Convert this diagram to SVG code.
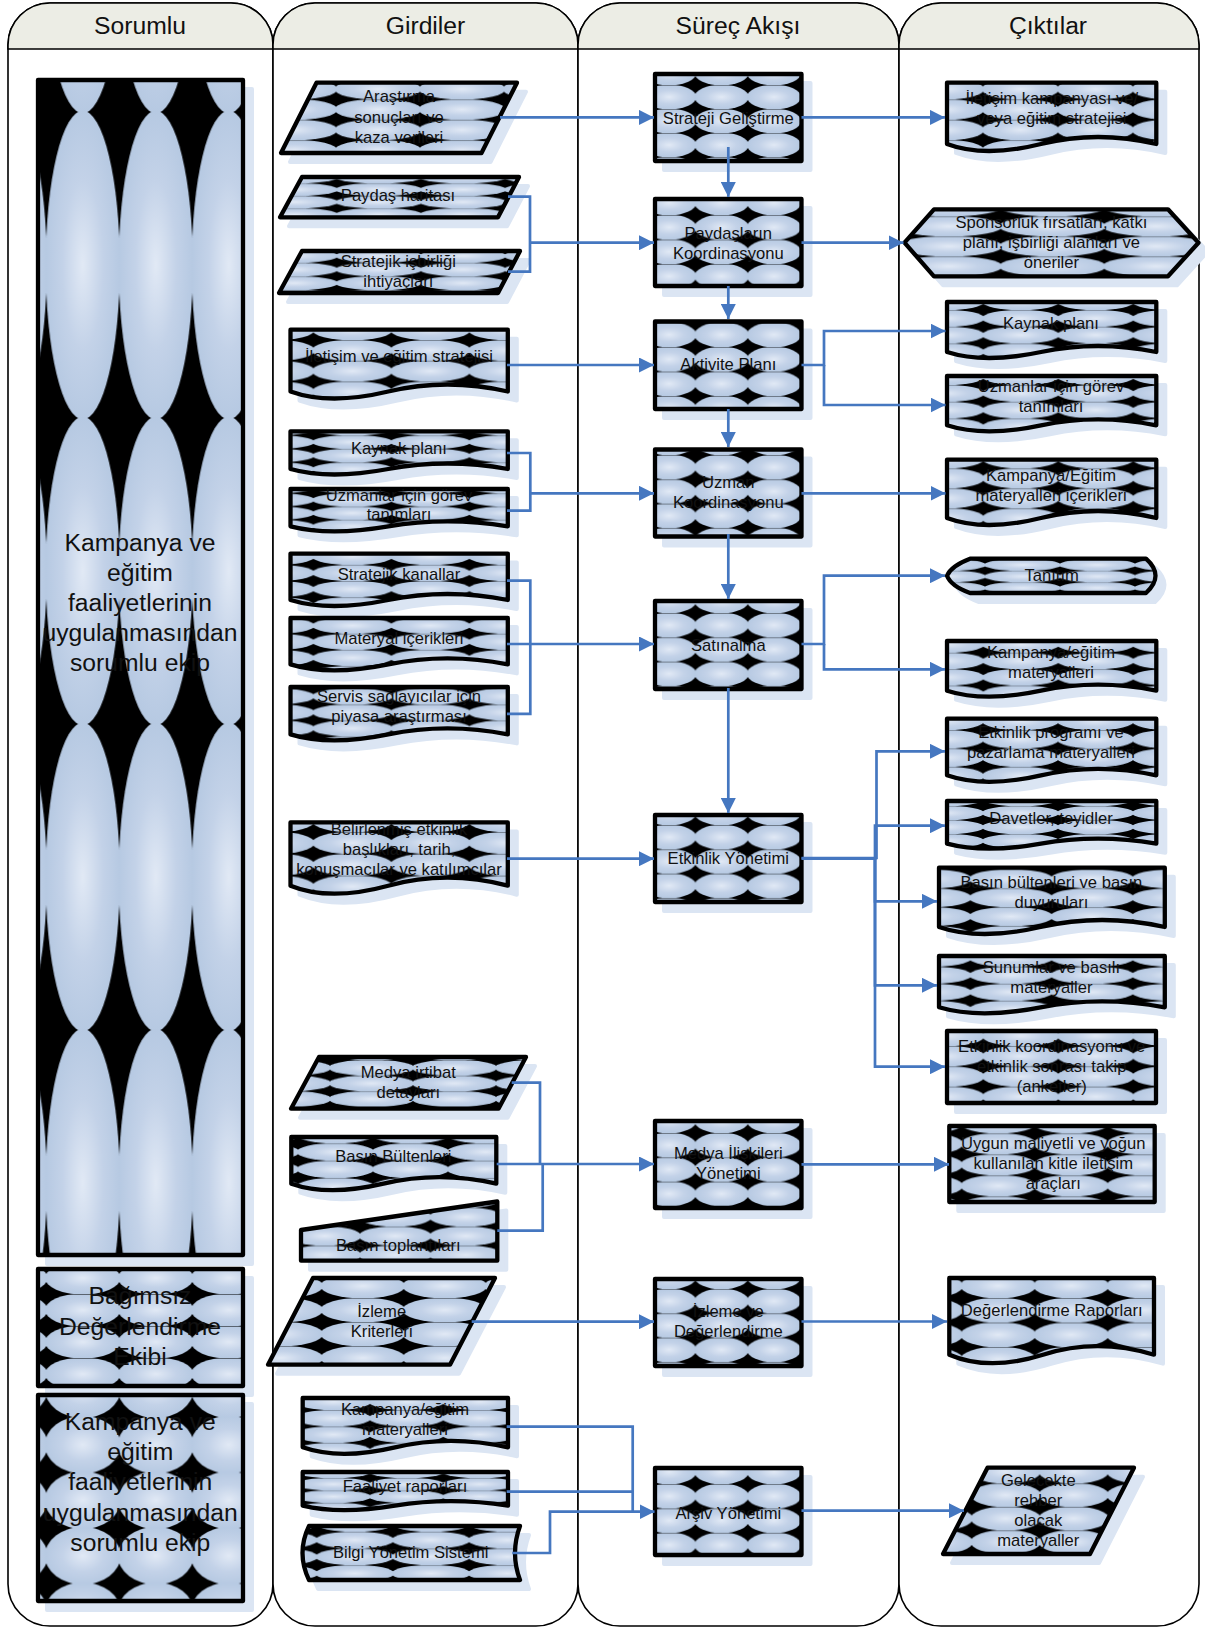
<svg xmlns="http://www.w3.org/2000/svg" width="1205" height="1627" viewBox="0 0 1205 1627">
<style>
text{font-family:"Liberation Sans",Arial,sans-serif;fill:#111;text-anchor:middle}
.t{font-size:16.6px;transform:translate(0,.8px)}
.l{font-size:24.7px}
.s{fill:#dbe5f3;stroke:#dbe5f3;stroke-width:4;stroke-linejoin:round;transform:translate(9px,9px)}
.b{stroke:#000;stroke-width:4.3;stroke-linejoin:round}
.lane{fill:#fff;stroke:#000;stroke-width:1.6}
.head{fill:#ecede5;stroke:#000;stroke-width:1.6}
.c{fill:none;stroke:#4577c0;stroke-width:2.7}
.e{marker-end:url(#a)}
</style>
<defs>
<radialGradient id="g"><stop offset="0" stop-color="#e1e9f5"/><stop offset=".55" stop-color="#c3d2e8"/><stop offset="1" stop-color="#b6c9e2"/></radialGradient>
<marker id="a" markerUnits="userSpaceOnUse" viewBox="0 0 15 15" markerWidth="15" markerHeight="15" refX="15" refY="7.5" orient="auto"><path d="M0 0L15 7.5L0 15Z" fill="#4577c0"/></marker>
<pattern id="t" viewBox="0 0 100 100" preserveAspectRatio="none" patternUnits="userSpaceOnUse" width="73" height="20"><rect width="100" height="100" fill="#000"/><ellipse cx="50" cy="50" rx="51.6" ry="51.6" fill="url(#g)"/><rect width="100" height="2" fill="#000" opacity=".8"/></pattern>
<pattern id="tb" viewBox="0 0 100 100" preserveAspectRatio="none" patternUnits="userSpaceOnUse" width="73" height="306"><rect width="100" height="100" fill="#000"/><ellipse cx="50" cy="50" rx="50.8" ry="50.4" fill="url(#g)"/></pattern>
<pattern id="tc" viewBox="0 0 100 100" preserveAspectRatio="none" patternUnits="userSpaceOnUse" width="73" height="55.5"><rect width="100" height="100" fill="#000"/><ellipse cx="50" cy="50" rx="51.8" ry="51.8" fill="url(#g)"/></pattern>
<pattern id="r1" href="#tb" x="46.3" y="112" width="73" height="306"/>
<pattern id="r2" href="#t" x="46.3" y="1262" width="73" height="32"/>
<pattern id="r3" href="#tc" x="46.3" y="1417" width="73" height="55.5"/>
<pattern id="p1" href="#t" x="695.4" y="85" width="52.4" height="24"/>
<pattern id="p2" href="#t" x="695.4" y="215" width="52.4" height="24.5"/>
<pattern id="p3" href="#t" x="695.4" y="347" width="52.4" height="24.5"/>
<pattern id="p4" href="#t" x="695.4" y="455" width="52.4" height="24.3"/>
<pattern id="p5" href="#t" x="695.4" y="613" width="52.4" height="24.3"/>
<pattern id="p6" href="#t" x="695.4" y="825" width="52.4" height="24.3"/>
<pattern id="p7" href="#t" x="695.4" y="1133" width="52.4" height="24.3"/>
<pattern id="p8" href="#t" x="695.4" y="1289" width="52.4" height="24.3"/>
<pattern id="p9" href="#t" x="695.4" y="1484" width="52.4" height="24.4"/>
<pattern id="i1" href="#t" x="336" y="99.3" width="84" height="20.4"/>
<pattern id="i2" href="#t" x="336.7" y="183.3" width="84.2" height="12.5"/>
<pattern id="i3" href="#t" x="336.7" y="262.7" width="84.2" height="13.6"/>
<pattern id="i4" href="#t" x="313.4" y="340" width="78" height="20.7"/>
<pattern id="i5" href="#t" x="313.4" y="435.3" width="78" height="13.5"/>
<pattern id="i6" href="#t" x="313.4" y="493.3" width="78" height="13.2"/>
<pattern id="i7" href="#t" x="313.4" y="564.8" width="78" height="16.2"/>
<pattern id="i8" href="#t" x="313.4" y="633.7" width="78" height="16.1"/>
<pattern id="i9" href="#t" x="313.4" y="704.4" width="78" height="16"/>
<pattern id="i10" href="#t" x="313.4" y="832" width="78" height="21.8"/>
<pattern id="i11" href="#t" x="330" y="1060" width="83" height="15.6"/>
<pattern id="i12" href="#t" x="298" y="1143.3" width="75" height="17.3"/>
<pattern id="i13" href="#t" x="360" y="1207.5" width="70.5" height="19"/>
<pattern id="i14" href="#t" x="321.7" y="1298" width="82" height="24"/>
<pattern id="i15" href="#t" x="370" y="1410" width="73.3" height="16.4"/>
<pattern id="i16" href="#t" x="370" y="1478" width="73.3" height="12.4"/>
<pattern id="i17" href="#t" x="316.7" y="1531.7" width="76.2" height="16.7"/>
<pattern id="o1" href="#t" x="982.9" y="99.3" width="75" height="20.4"/>
<pattern id="o2" href="#t" x="1000.7" y="216.3" width="103.6" height="20"/>
<pattern id="o3" href="#t" x="983.3" y="310" width="75" height="16.7"/>
<pattern id="o4" href="#t" x="983.3" y="385" width="75" height="16.7"/>
<pattern id="o5" href="#t" x="983.3" y="468.3" width="75" height="20"/>
<pattern id="o6" href="#t" x="985" y="570.7" width="75" height="11.5"/>
<pattern id="o7" href="#t" x="983.3" y="652.7" width="75" height="16.4"/>
<pattern id="o8" href="#t" x="983" y="730" width="75" height="18.4"/>
<pattern id="o9" href="#t" x="983" y="806" width="75" height="14"/>
<pattern id="o10" href="#t" x="970.4" y="888.3" width="81.2" height="18.8"/>
<pattern id="o11" href="#t" x="970.4" y="966.7" width="81.2" height="17"/>
<pattern id="o12" href="#t" x="983.3" y="1046" width="75" height="20.3"/>
<pattern id="o13" href="#t" x="961.7" y="1133.3" width="73" height="21"/>
<pattern id="o14" href="#t" x="961.7" y="1298" width="73" height="24.5"/>
<pattern id="o15" href="#t" x="971.7" y="1483.3" width="68" height="23.5"/>
</defs>

<g id="lanes">
<g id="lane-sorumlu"><rect class="lane" x="8" y="3" width="265" height="1623" rx="42"/><path class="head" d="M8 49V45A42 42 0 0 1 50 3H231A42 42 0 0 1 273 45V49Z"/><text class="l" x="140" y="34">Sorumlu</text></g>
<g id="lane-girdiler"><rect class="lane" x="273" y="3" width="305" height="1623" rx="42"/><path class="head" d="M273 49V45A42 42 0 0 1 315 3H536A42 42 0 0 1 578 45V49Z"/><text class="l" x="425.5" y="34">Girdiler</text></g>
<g id="lane-surec"><rect class="lane" x="578" y="3" width="321" height="1623" rx="42"/><path class="head" d="M578 49V45A42 42 0 0 1 620 3H857A42 42 0 0 1 899 45V49Z"/><text class="l" x="738" y="34">Süreç Akışı</text></g>
<g id="lane-ciktilar"><rect class="lane" x="899" y="3" width="300" height="1623" rx="42"/><path class="head" d="M899 49V45A42 42 0 0 1 941 3H1157A42 42 0 0 1 1199 45V49Z"/><text class="l" x="1048" y="34">Çıktılar</text></g>
</g>

<g id="r-1"><rect class="s" x="38" y="80" width="205" height="1175"/><rect class="b" x="38" y="80" width="205" height="1175" fill="url(#r1)"/><text class="l"><tspan x="140" y="551">Kampanya ve</tspan><tspan x="140" y="581">eğitim</tspan><tspan x="140" y="611">faaliyetlerinin</tspan><tspan x="140" y="641">uygulanmasından</tspan><tspan x="140" y="671">sorumlu ekip</tspan></text></g>
<g id="r-2"><rect class="s" x="38" y="1269" width="205" height="117"/><rect class="b" x="38" y="1269" width="205" height="117" fill="url(#r2)"/><text class="l"><tspan x="140" y="1304.3">Bağımsız</tspan><tspan x="140" y="1335">Değerlendirme</tspan><tspan x="140" y="1365">Ekibi</tspan></text></g>
<g id="r-3"><rect class="s" x="38" y="1395" width="205" height="206"/><rect class="b" x="38" y="1395" width="205" height="206" fill="url(#r3)"/><text class="l"><tspan x="140.3" y="1430">Kampanya ve</tspan><tspan x="140.3" y="1460">eğitim</tspan><tspan x="140.3" y="1490">faaliyetlerinin</tspan><tspan x="140.3" y="1520.7">uygulanmasından</tspan><tspan x="140.3" y="1550.7">sorumlu ekip</tspan></text></g>

<g id="i-arastirma"><path class="s" d="M316.5 82.7H517L481.5 153H281Z"/><path class="b" fill="url(#i1)" d="M316.5 82.7H517L481.5 153H281Z"/><text class="t"><tspan x="399" y="101.7">Araştırma</tspan><tspan x="399" y="122.7">sonuçları ve</tspan><tspan x="399" y="142.7">kaza verileri</tspan></text></g>
<g id="i-paydas"><path class="s" d="M302 177H519L498 217.3H280Z"/><path class="b" fill="url(#i2)" d="M302 177H519L498 217.3H280Z"/><text class="t" x="398" y="200.7">Paydaş haritası</text></g>
<g id="i-isbirligi"><path class="s" d="M302 251H520L498 293H279Z"/><path class="b" fill="url(#i3)" d="M302 251H520L498 293H279Z"/><text class="t"><tspan x="398.3" y="266.7">Stratejik işbirliği</tspan><tspan x="398.3" y="286.7">ihtiyaçları</tspan></text></g>
<g id="i-iletisim"><path class="s" d="M290.5 329.7H507.8V391.5Q447 377.5 388.3 391.5T290.5 391.5Z"/><path class="b" fill="url(#i4)" d="M290.5 329.7H507.8V391.5Q447 377.5 388.3 391.5T290.5 391.5Z"/><text class="t" x="399" y="360.8">İletişim ve eğitim stratejisi</text></g>
<g id="i-kaynak"><path class="s" d="M290.5 431.3H507.8V469Q447 458 388.3 469T290.5 469Z"/><path class="b" fill="url(#i5)" d="M290.5 431.3H507.8V469Q447 458 388.3 469T290.5 469Z"/><text class="t" x="399" y="453">Kaynak planı</text></g>
<g id="i-uzmanlar"><path class="s" d="M290.5 489H507.8V526.3Q447 516.3 388.3 526.3T290.5 526.3Z"/><path class="b" fill="url(#i6)" d="M290.5 489H507.8V526.3Q447 516.3 388.3 526.3T290.5 526.3Z"/><text class="t"><tspan x="399" y="500">Uzmanlar için görev</tspan><tspan x="399" y="519.6">tanımları</tspan></text></g>
<g id="i-kanallar"><path class="s" d="M290.5 553.6H507.8V600Q447 588 388.3 600T290.5 600Z"/><path class="b" fill="url(#i7)" d="M290.5 553.6H507.8V600Q447 588 388.3 600T290.5 600Z"/><text class="t" x="399" y="579">Stratejik kanallar</text></g>
<g id="i-materyal"><path class="s" d="M290.5 618H507.8V664.4Q447 652.4 388.3 664.4T290.5 664.4Z"/><path class="b" fill="url(#i8)" d="M290.5 618H507.8V664.4Q447 652.4 388.3 664.4T290.5 664.4Z"/><text class="t" x="399" y="643">Materyal içerikleri</text></g>
<g id="i-servis"><path class="s" d="M290.5 687H507.8V734.4Q447 722.4 388.3 734.4T290.5 734.4Z"/><path class="b" fill="url(#i9)" d="M290.5 687H507.8V734.4Q447 722.4 388.3 734.4T290.5 734.4Z"/><text class="t"><tspan x="399" y="701.4">Servis sağlayıcılar için</tspan><tspan x="399" y="721.4">piyasa araştırması</tspan></text></g>
<g id="i-belirlenmis"><path class="s" d="M290.5 822.4H507.8V885.7Q447 869.7 388.3 885.7T290.5 885.7Z"/><path class="b" fill="url(#i10)" d="M290.5 822.4H507.8V885.7Q447 869.7 388.3 885.7T290.5 885.7Z"/><text class="t"><tspan x="399" y="833.9">Belirlenmiş etkinlik</tspan><tspan x="399" y="854">başlıkları, tarih,</tspan><tspan x="399" y="873.8">konuşmacılar ve katılımcılar</tspan></text></g>
<g id="i-medya"><path class="s" d="M319 1057H526L498.5 1108.7H291Z"/><path class="b" fill="url(#i11)" d="M319 1057H526L498.5 1108.7H291Z"/><text class="t"><tspan x="408.3" y="1077.3">Medya irtibat</tspan><tspan x="408.3" y="1097.3">detayları</tspan></text></g>
<g id="i-bulten"><path class="s" d="M291.3 1137H496.3V1183.7Q438.9 1170.7 383.5 1183.7T291.3 1183.7Z"/><path class="b" fill="url(#i12)" d="M291.3 1137H496.3V1183.7Q438.9 1170.7 383.5 1183.7T291.3 1183.7Z"/><text class="t" x="393.3" y="1161.7">Basın Bültenleri</text></g>
<g id="i-toplanti"><path class="s" d="M301 1230L497.3 1201.5V1260.7H301Z"/><path class="b" fill="url(#i13)" d="M301 1230L497.3 1201.5V1260.7H301Z"/><text class="t" x="398.3" y="1250">Basın toplantıları</text></g>
<g id="i-izleme"><path class="s" d="M313 1278H495L450 1364.7H268Z"/><path class="b" fill="url(#i14)" d="M313 1278H495L450 1364.7H268Z"/><text class="t"><tspan x="381.7" y="1316.7">İzleme</tspan><tspan x="381.7" y="1336.7">Kriterleri</tspan></text></g>
<g id="i-kampanya"><path class="s" d="M302.7 1398H508V1447.3Q450.3 1434.3 395 1447.3T302.7 1447.3Z"/><path class="b" fill="url(#i15)" d="M302.7 1398H508V1447.3Q450.3 1434.3 395 1447.3T302.7 1447.3Z"/><text class="t"><tspan x="405" y="1414.3">Kampanya/eğitim</tspan><tspan x="405" y="1434.3">materyalleri</tspan></text></g>
<g id="i-faaliyet"><path class="s" d="M302.7 1472H508V1505.7Q450.3 1496.7 395 1505.7T302.7 1505.7Z"/><path class="b" fill="url(#i16)" d="M302.7 1472H508V1505.7Q450.3 1496.7 395 1505.7T302.7 1505.7Z"/><text class="t" x="405" y="1491.7">Faaliyet raporları</text></g>
<g id="i-bilgi"><path class="s" d="M309 1526H520Q510 1553 520 1580H309Q296 1553 309 1526Z"/><path class="b" fill="url(#i17)" d="M309 1526H520Q510 1553 520 1580H309Q296 1553 309 1526Z"/><text class="t" x="410.7" y="1557.7">Bilgi Yönetim Sistemi</text></g>

<g id="p-strateji"><rect class="s" x="655" y="74" width="146.5" height="87"/><rect class="b" fill="url(#p1)" x="655" y="74" width="146.5" height="87"/><text class="t" x="728.3" y="123">Strateji Geliştirme</text></g>
<g id="p-paydaslar"><rect class="s" x="655" y="199" width="146.5" height="87"/><rect class="b" fill="url(#p2)" x="655" y="199" width="146.5" height="87"/><text class="t"><tspan x="728.3" y="238.3">Paydaşların</tspan><tspan x="728.3" y="258.3">Koordinasyonu</tspan></text></g>
<g id="p-aktivite"><rect class="s" x="655" y="321.5" width="146.5" height="87.5"/><rect class="b" fill="url(#p3)" x="655" y="321.5" width="146.5" height="87.5"/><text class="t" x="728.3" y="369.5">Aktivite Planı</text></g>
<g id="p-uzman"><rect class="s" x="655" y="449.5" width="146.5" height="87"/><rect class="b" fill="url(#p4)" x="655" y="449.5" width="146.5" height="87"/><text class="t"><tspan x="728.3" y="487.6">Uzman</tspan><tspan x="728.3" y="507.6">Koordinasyonu</tspan></text></g>
<g id="p-satinalma"><rect class="s" x="655" y="601" width="146.5" height="88"/><rect class="b" fill="url(#p5)" x="655" y="601" width="146.5" height="88"/><text class="t" x="728.3" y="649.8">Satınalma</text></g>
<g id="p-etkinlik"><rect class="s" x="655" y="815" width="146.5" height="87"/><rect class="b" fill="url(#p6)" x="655" y="815" width="146.5" height="87"/><text class="t" x="728.3" y="863">Etkinlik Yönetimi</text></g>
<g id="p-medya"><rect class="s" x="655" y="1121" width="146.5" height="87"/><rect class="b" fill="url(#p7)" x="655" y="1121" width="146.5" height="87"/><text class="t"><tspan x="728.3" y="1158.7">Medya İlişkileri</tspan><tspan x="728.3" y="1178.7">Yönetimi</tspan></text></g>
<g id="p-izleme"><rect class="s" x="655" y="1279" width="146.5" height="87"/><rect class="b" fill="url(#p8)" x="655" y="1279" width="146.5" height="87"/><text class="t"><tspan x="728.3" y="1316.7">İzleme ve</tspan><tspan x="728.3" y="1336.7">Değerlendirme</tspan></text></g>
<g id="p-arsiv"><rect class="s" x="655" y="1468" width="146.5" height="87"/><rect class="b" fill="url(#p9)" x="655" y="1468" width="146.5" height="87"/><text class="t" x="728.3" y="1518">Arşiv Yönetimi</text></g>

<g id="o-iletisim"><path class="s" d="M947 82.7H1156.3V144Q1097.5 130 1041 144T947 144Z"/><path class="b" fill="url(#o1)" d="M947 82.7H1156.3V144Q1097.5 130 1041 144T947 144Z"/><text class="t"><tspan x="1051.8" y="103.3">İletişim kampanyası ve/</tspan><tspan x="1051.8" y="123.3">veya eğitim stratejisi</tspan></text></g>
<g id="o-sponsor"><path class="s" d="M904.5 242.7L934 209.3H1168L1198.5 242.7L1168 276.3H934Z"/><path class="b" fill="url(#o2)" d="M904.5 242.7L934 209.3H1168L1198.5 242.7L1168 276.3H934Z"/><text class="t"><tspan x="1051.4" y="227.3">Sponsorluk fırsatları, katkı</tspan><tspan x="1051.4" y="247.3">planı, işbirliği alanları ve</tspan><tspan x="1051.4" y="267.3">öneriler</tspan></text></g>
<g id="o-kaynak"><path class="s" d="M947 302H1156.3V352Q1097.5 340 1041 352T947 352Z"/><path class="b" fill="url(#o3)" d="M947 302H1156.3V352Q1097.5 340 1041 352T947 352Z"/><text class="t" x="1051" y="328.3">Kaynak planı</text></g>
<g id="o-uzmanlar"><path class="s" d="M947 376H1156.3V425.3Q1097.5 413.3 1041 425.3T947 425.3Z"/><path class="b" fill="url(#o4)" d="M947 376H1156.3V425.3Q1097.5 413.3 1041 425.3T947 425.3Z"/><text class="t"><tspan x="1051" y="391.7">Uzmanlar için görev</tspan><tspan x="1051" y="411.7">tanımları</tspan></text></g>
<g id="o-icerik"><path class="s" d="M947 459.7H1156.3V518Q1097.5 504 1041 518T947 518Z"/><path class="b" fill="url(#o5)" d="M947 459.7H1156.3V518Q1097.5 504 1041 518T947 518Z"/><text class="t"><tspan x="1051" y="480">Kampanya/Eğitim</tspan><tspan x="1051" y="500">materyalleri içerikleri</tspan></text></g>
<g id="o-tanitim"><path class="s" d="M947 575.7Q951 566 970 558.7H1146Q1165 575.7 1146 593H970Q951 586 947 575.7Z"/><path class="b" fill="url(#o6)" d="M947 575.7Q951 566 970 558.7H1146Q1165 575.7 1146 593H970Q951 586 947 575.7Z"/><text class="t" x="1051.7" y="580.7">Tanıtım</text></g>
<g id="o-materyal"><path class="s" d="M947 641H1156.3V690.7Q1097.5 678.7 1041 690.7T947 690.7Z"/><path class="b" fill="url(#o7)" d="M947 641H1156.3V690.7Q1097.5 678.7 1041 690.7T947 690.7Z"/><text class="t"><tspan x="1051" y="657.3">Kampanya/eğitim</tspan><tspan x="1051" y="677.3">materyalleri</tspan></text></g>
<g id="o-program"><path class="s" d="M947 718.7H1156.3V775.3Q1097.5 762.3 1041 775.3T947 775.3Z"/><path class="b" fill="url(#o8)" d="M947 718.7H1156.3V775.3Q1097.5 762.3 1041 775.3T947 775.3Z"/><text class="t"><tspan x="1051" y="737.3">Etkinlik programı ve</tspan><tspan x="1051" y="757.3">pazarlama materyalleri</tspan></text></g>
<g id="o-davet"><path class="s" d="M947 801H1156.3V843.7Q1097.5 833.7 1041 843.7T947 843.7Z"/><path class="b" fill="url(#o9)" d="M947 801H1156.3V843.7Q1097.5 833.7 1041 843.7T947 843.7Z"/><text class="t" x="1051" y="823.3">Davetler, teyidler</text></g>
<g id="o-basin"><path class="s" d="M939 867.7H1164.8V927Q1101.6 913 1040.6 927T939 927Z"/><path class="b" fill="url(#o10)" d="M939 867.7H1164.8V927Q1101.6 913 1040.6 927T939 927Z"/><text class="t"><tspan x="1051.4" y="887.3">Basın bültenleri ve basın</tspan><tspan x="1051.4" y="907.3">duyuruları</tspan></text></g>
<g id="o-sunum"><path class="s" d="M939 956H1164.8V1007.3Q1101.6 995.3 1040.6 1007.3T939 1007.3Z"/><path class="b" fill="url(#o11)" d="M939 956H1164.8V1007.3Q1101.6 995.3 1040.6 1007.3T939 1007.3Z"/><text class="t"><tspan x="1051.4" y="972.3">Sunumlar ve basılı</tspan><tspan x="1051.4" y="992.3">materyaller</tspan></text></g>
<g id="o-koordinasyon"><rect class="s" x="947" y="1031" width="209" height="72"/><rect class="b" fill="url(#o12)" x="947" y="1031" width="209" height="72"/><text class="t"><tspan x="1051.7" y="1051.7">Etkinlik koordinasyonu ve</tspan><tspan x="1051.7" y="1071.7">etkinlik sonrası takip</tspan><tspan x="1051.7" y="1091.7">(anketler)</tspan></text></g>
<g id="o-uygun"><rect class="s" x="949.3" y="1126" width="205.4" height="76"/><rect class="b" fill="url(#o13)" x="949.3" y="1126" width="205.4" height="76"/><text class="t"><tspan x="1053.3" y="1148.3">Uygun maliyetli ve yoğun</tspan><tspan x="1053.3" y="1168.3">kullanılan kitle iletişim</tspan><tspan x="1053.3" y="1188.3">araçları</tspan></text></g>
<g id="o-rapor"><path class="s" d="M949.3 1278H1154V1354.7Q1097 1337.7 1043 1354.7T949.3 1354.7Z"/><path class="b" fill="url(#o14)" d="M949.3 1278H1154V1354.7Q1097 1337.7 1043 1354.7T949.3 1354.7Z"/><text class="t" x="1051.7" y="1315.7">Değerlendirme Raporları</text></g>
<g id="o-gelecek"><path class="s" d="M987.5 1467.7H1134L1090 1554H943Z"/><path class="b" fill="url(#o15)" d="M987.5 1467.7H1134L1090 1554H943Z"/><text class="t"><tspan x="1038.3" y="1485.7">Gelecekte</tspan><tspan x="1038.3" y="1505.7">rehber</tspan><tspan x="1038.3" y="1525.7">olacak</tspan><tspan x="1038.3" y="1545.7">materyaller</tspan></text></g>

<g id="connectors">
<path class="c e" d="M500 117.4H654"/>
<path class="c" d="M508 196.7H530V271.7H508"/>
<path class="c e" d="M530 242.7H654"/>
<path class="c e" d="M507 365H654"/>
<path class="c" d="M507 453H530.3V510.6H507"/>
<path class="c e" d="M530.3 493.3H654"/>
<path class="c" d="M507 580.6H530.3V713.8H507"/>
<path class="c e" d="M507 644H654"/>
<path class="c e" d="M507 858.7H654"/>
<path class="c" d="M511.7 1082.7H540V1164"/>
<path class="c" d="M497.3 1230.7H542.7V1164"/>
<path class="c e" d="M496.7 1164H654"/>
<path class="c e" d="M471.7 1321.7H654"/>
<path class="c" d="M506.7 1426.7H632.7V1511.7"/>
<path class="c" d="M506.7 1491.7H632.7"/>
<path class="c e" d="M512.3 1553H550V1511.7H654.5"/>
<path class="c e" d="M728.3 147V197"/>
<path class="c e" d="M728.3 286V319"/>
<path class="c e" d="M728.3 409V447"/>
<path class="c e" d="M728.3 534V599"/>
<path class="c e" d="M728.3 688V813"/>
<path class="c e" d="M801.5 117.4H945"/>
<path class="c e" d="M801.5 242.7H903.5"/>
<path class="c e" d="M801.5 365H824V331H945.5"/>
<path class="c e" d="M824 365V405H945.5"/>
<path class="c e" d="M801.5 493.3H945.5"/>
<path class="c e" d="M801.5 644H824V575.7H945"/>
<path class="c e" d="M824 644V669.3H945"/>
<path class="c e" d="M801.5 858H876.5V751.3H945"/>
<path class="c e" d="M801.5 858.7H875V825.7H945"/>
<path class="c e" d="M875 858V901.3H937"/>
<path class="c e" d="M875 858V985.3H937"/>
<path class="c e" d="M875 858V1066.7H945"/>
<path class="c e" d="M801.5 1164.3H949"/>
<path class="c e" d="M801.5 1321.5H947"/>
<path class="c e" d="M801.5 1510.7H964"/>
</g>
</svg>
